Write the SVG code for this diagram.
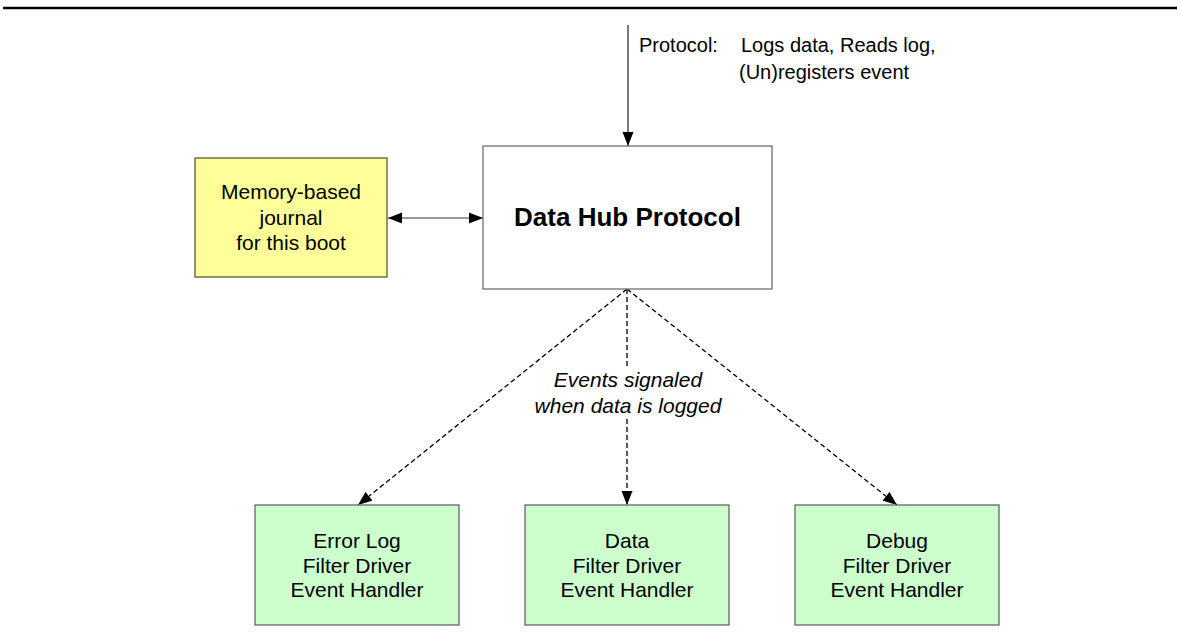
<svg xmlns="http://www.w3.org/2000/svg" width="1180" height="638" viewBox="0 0 1180 638">
  <style>
    .t { font-family: "Liberation Sans", Arial, sans-serif; font-size: 21px; fill: #000; text-anchor: middle; }
    .lbl { font-family: "Liberation Sans", Arial, sans-serif; font-size: 20px; fill: #000; }
    .title { font-family: "Liberation Sans", Arial, sans-serif; font-size: 26px; font-weight: bold; fill: #000; text-anchor: middle; }
    .it { font-family: "Liberation Sans", Arial, sans-serif; font-size: 21px; font-style: italic; fill: #000; text-anchor: middle; }
    .yellow { fill: #FFFF99; stroke: #5a5a3a; stroke-width: 1.3; }
    .green { fill: #CCFFCC; stroke: #666666; stroke-width: 1.3; }
    .white { fill: #FFFFFF; stroke: #707070; stroke-width: 1.3; }
    .solid { fill: none; stroke-width: 1.3; }
    .dash { fill: none; stroke: #000; stroke-width: 1.3; stroke-dasharray: 5 3; }
  </style>
  <defs>
    <marker id="ah" viewBox="0 0 14 12" refX="14" refY="6" markerWidth="14" markerHeight="12" markerUnits="userSpaceOnUse" orient="auto-start-reverse">
      <path d="M0,0.5 L14,6 L0,11.5 z" fill="#000"/>
    </marker>
  </defs>

  <line x1="3" y1="8" x2="1177" y2="8" stroke="#000" stroke-width="2.5"/>

  <g id="connectors">
    <line class="solid" x1="628" y1="25" x2="628" y2="146" marker-end="url(#ah)" stroke="#333"/>
    <line class="solid" x1="388" y1="218" x2="483" y2="218" marker-start="url(#ah)" marker-end="url(#ah)" stroke="#777"/>
    <line class="dash" x1="627" y1="289" x2="358" y2="505" marker-end="url(#ah)"/>
    <line class="dash" x1="627" y1="289" x2="627" y2="367"/>
    <line class="dash" x1="627" y1="419" x2="627" y2="505" marker-end="url(#ah)"/>
    <line class="dash" x1="627" y1="289" x2="897" y2="505" marker-end="url(#ah)"/>
    <text class="lbl" x="639" y="52">Protocol:</text>
    <text class="lbl" x="741" y="52">Logs data, Reads log,</text>
    <text class="lbl" x="739" y="79">(Un)registers event</text>
    <text class="it" x="628" y="387">Events signaled</text>
    <text class="it" x="628" y="413">when data is logged</text>
  </g>

  <g id="journal">
    <rect class="yellow" x="195" y="158" width="192" height="119"/>
    <text class="t" x="291" y="199">Memory-based</text>
    <text class="t" x="291" y="225">journal</text>
    <text class="t" x="291" y="250">for this boot</text>
  </g>

  <g id="hub">
    <rect class="white" x="483" y="146" width="289" height="143"/>
    <text class="title" x="627.5" y="226">Data Hub Protocol</text>
  </g>

  <g id="errorlog">
    <rect class="green" x="255" y="505" width="204" height="120"/>
    <text class="t" x="357" y="548">Error Log</text>
    <text class="t" x="357" y="573">Filter Driver</text>
    <text class="t" x="357" y="597">Event Handler</text>
  </g>

  <g id="data">
    <rect class="green" x="525" y="505" width="204" height="120"/>
    <text class="t" x="627" y="548">Data</text>
    <text class="t" x="627" y="573">Filter Driver</text>
    <text class="t" x="627" y="597">Event Handler</text>
  </g>

  <g id="debug">
    <rect class="green" x="795" y="505" width="204" height="120"/>
    <text class="t" x="897" y="548">Debug</text>
    <text class="t" x="897" y="573">Filter Driver</text>
    <text class="t" x="897" y="597">Event Handler</text>
  </g>
</svg>
